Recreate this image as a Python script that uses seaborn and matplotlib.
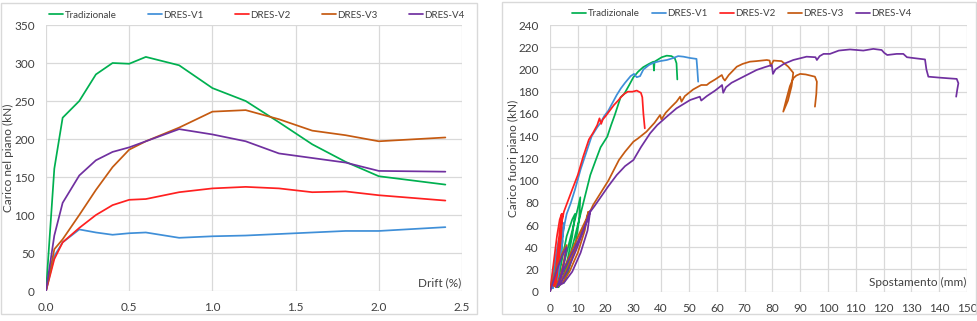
import matplotlib
matplotlib.use("Agg")
import matplotlib.pyplot as plt
import seaborn as sns
import pandas as pd
from matplotlib.patches import Rectangle

# ---------------- data ----------------
series_names = ["Tradizionale", "DRES-V1", "DRES-V2", "DRES-V3", "DRES-V4"]
series_colors = ["#00B050", "#3F8FD8", "#FF2020", "#C55A11", "#7030A0"]

# Left panel: in-plane load vs drift
drift = [0.0, 0.05, 0.1, 0.2, 0.3, 0.4, 0.5, 0.6, 0.8, 1.0, 1.2, 1.4, 1.6, 1.8, 2.0, 2.4]
trad_inplane = [0, 161, 228, 250, 285, 300, 299, 308, 297, 267, 250, 222, 193, 170, 151, 140]
v1_inplane = [0, 46, 64, 81, 77, 74, 76, 77, 70, 72, 73, 75, 77, 79, 79, 84]
v2_inplane = [0, 42, 64, 83, 100, 113, 120, 121, 130, 135, 137, 135, 130, 131, 126, 119]
v3_inplane = [0, 55, 68, 100, 133, 163, 186, 197, 215, 236, 238, 226, 211, 205, 197, 202]
v4_inplane = [0, 73, 116, 152, 172, 183, 189, 197, 213, 206, 197, 181, 175, 169, 158, 157]

# Right panel: out-of-plane load vs displacement (cyclic paths)
trad_disp = [0, 1.5, 3, 4.5, 4, 3, 2.5, 4, 6, 8, 9, 8, 6, 4, 3, 5, 7.5, 10, 10.9, 10.5, 9, 6.5, 5,
             7, 9.5, 11.5, 13, 14.5, 16.4, 18.2, 20.6, 22, 23.3, 25.4, 26.7, 28.5, 30, 31.7, 33.5,
             35.6, 37.2, 37.4, 37.6, 40.2, 42, 43.7, 44.9, 45.5, 45.8]
trad_load = [0, 20, 38, 46, 30, 10, 4, 25, 50, 65, 70, 50, 25, 8, 4, 25, 50, 75, 85, 65, 40, 18, 8,
             30, 55, 75, 90, 105, 118, 130, 139.5, 150, 159, 175, 178, 186, 193, 198, 202,
             205, 207, 199, 207, 211, 212.4, 212, 210, 205.6, 191]

v1_disp = [0, 1.5, 3, 4, 3.5, 2, 1, 2.5, 4, 5, 4.5, 3, 2, 3.5, 5, 6, 7.5, 9, 11, 13, 15, 17, 18.2,
           19.5, 21, 22.5, 24, 25.5, 27, 29, 30.2, 31.2, 32.4, 33.6, 35.6, 37.2, 39.6, 42, 44,
           46.1, 48, 50.4, 52.7, 53, 53.3]
v1_load = [0, 25, 45, 55, 35, 10, 3, 30, 50, 62, 45, 15, 5, 35, 58, 70, 80, 92, 110, 125, 140, 148, 152,
           158, 163, 170, 177, 183, 188, 194, 196, 193, 194, 200, 204, 206, 207.5, 208.5, 210,
           212, 211.5, 210.3, 209.5, 200, 189]

v2_disp = [0, 1.5, 2.5, 3.5, 4.2, 3.8, 2.5, 1.5, 2.5, 3.5, 4.5, 4.0, 3.0, 2.0, 3.0, 4.0, 5.0, 6.5, 8,
           10, 12, 14, 15.5, 17, 17.8, 18.4, 19, 20, 21.5, 23, 24.5, 25.5, 26.7, 28, 29.7, 31.2,
           32.7, 33.2, 33.6, 34.1]
v2_load = [0, 30, 50, 65, 70, 50, 20, 5, 30, 55, 70, 50, 25, 6, 35, 60, 72, 82, 92,
           105, 122, 137, 143, 150, 156, 151, 155, 158, 163, 168, 172, 175, 178, 180, 180, 181,
           179, 175, 160, 147]

v3_disp = [0, 1, 2.5, 4.5, 6, 5, 3.5, 2, 4.5, 7.5, 10.5, 13, 13.8, 12.5, 10, 7, 4.5, 3, 6, 9, 12, 14,
           15.5, 18, 21, 24.8, 27, 30, 31.7, 34.7, 37.6, 39.6, 40.1, 41.6, 43.7, 45.5, 46.8, 47.3,
           48.5, 51.5, 53.3, 54.4, 56.4, 57.4, 59.4, 61.8, 62.3, 62.9, 64.3, 67.2, 69.3, 71.9,
           74.2, 78, 79, 79.4, 80.4, 83.3, 85.7, 87.5, 86.9, 85.6, 83.9, 84.9, 86.3, 87.5, 88.6,
           90, 92, 95.3, 96, 95.8, 95.3]
v3_load = [0, 10, 22, 35, 42, 28, 12, 4, 18, 35, 52, 65, 72, 55, 35, 18, 8, 5, 20, 38, 57, 70,
           78, 88, 100, 118.5, 126, 135, 138, 144, 152, 159, 155, 161, 166.5, 171, 175.5, 171,
           176, 182, 184.5, 186, 186, 188, 191, 195, 192, 190, 195, 202.5, 205, 207,
           207.5, 208.5, 208, 203, 208, 207.5, 202.5, 197, 185, 172, 162, 172, 185, 192, 194.5,
           196, 195.5, 193.5, 189, 178, 166.5]

v4_disp = [0, 1, 2.5, 4.5, 6, 5, 3.5, 2.5, 5, 8, 11, 13, 14.5, 13.5, 11, 8, 5, 3.5, 6.5, 9.5, 12.5,
           14.5, 16, 18.5, 21, 24, 27, 30, 32.7, 36, 38.6, 42, 45.5, 50.4, 53.9, 54.4, 56.4, 59.4,
           61.2, 61.9, 62.3, 63.3, 65.3, 69.6, 74.3, 77.2, 79.8, 80.2, 81.1, 84.1, 87.5, 92.3,
           95.5, 96, 97, 98.4, 100.7, 103.9, 107.9, 112.7, 116.3, 119.3, 120.2, 121.3, 124.7,
           127.1, 128.4, 131.6, 134.9, 135.4, 136.1, 140.3, 143.5, 146.3, 146.9, 146.5, 146.1]
v4_load = [0, 8, 20, 33, 40, 25, 10, 4, 20, 35, 50, 62, 73, 55, 35, 18, 8, 6, 20, 38, 58,
           72, 77, 86, 95, 105, 113, 118.5, 130, 142.5, 150, 157.5, 165, 172.5, 175.5, 172, 176, 181,
           184.5, 186, 179, 184, 188, 193.5, 199.5, 202, 204, 196, 200, 205, 208.5, 211.5,
           211, 208.5, 212, 214, 214, 217, 218, 217, 218.5, 217.5, 215, 213, 214,
           214, 211, 210, 209, 200, 193.5, 192.6, 192, 191.5, 187.6, 182, 175.5]

left_ticks_x = [0.0, 0.5, 1.0, 1.5, 2.0, 2.5]
left_ticks_y = [0, 50, 100, 150, 200, 250, 300, 350]
right_ticks_x = list(range(0, 151, 10))
right_ticks_y = list(range(0, 241, 20))

# ---------------- tables ----------------
inplane = [trad_inplane, v1_inplane, v2_inplane, v3_inplane, v4_inplane]
df_left = pd.concat([pd.DataFrame({"x": drift, "y": vals, "serie": name})
                     for name, vals in zip(series_names, inplane)], ignore_index=True)

disps = [trad_disp, v1_disp, v2_disp, v3_disp, v4_disp]
loads = [trad_load, v1_load, v2_load, v3_load, v4_load]
df_right = pd.concat([pd.DataFrame({"x": d, "y": l, "serie": name})
                      for name, d, l in zip(series_names, disps, loads)], ignore_index=True)

# ---------------- style ----------------
sns.set_theme(style="whitegrid")
plt.rcParams["font.family"] = ["Lato", "DejaVu Sans"]
grid_c = "#D9D9D9"
text_c = "#404040"
palette = dict(zip(series_names, series_colors))

fig = plt.figure(figsize=(9.78, 3.21), dpi=100)
fig.patch.set_facecolor("white")

ax1 = fig.add_axes([46 / 978, 30 / 321, 416 / 978, 266 / 321])
ax2 = fig.add_axes([550 / 978, 29.3 / 321, 417 / 978, 266.7 / 321])

for ax, df in ((ax1, df_left), (ax2, df_right)):
    sns.lineplot(data=df, x="x", y="y", hue="serie", palette=palette, hue_order=series_names,
                 sort=False, estimator=None, lw=1.25, ax=ax, legend=True)

def style_axis(ax, xt, yt, xlim, ylim, ylabel, xlab, xfmt, label_x):
    ax.set_xlim(*xlim)
    ax.set_ylim(*ylim)
    ax.set_xticks(xt)
    ax.set_yticks(yt)
    ax.set_xticklabels([xfmt(v) for v in xt], fontsize=8.5, color=text_c)
    ax.set_yticklabels([str(v) for v in yt], fontsize=8.5, color=text_c)
    ax.tick_params(axis="x", length=0, pad=8)
    ax.tick_params(axis="y", length=0, pad=8)
    ax.grid(True, color=grid_c, lw=0.9)
    for s in ax.spines.values():
        s.set_visible(False)
    ax.set_xlabel("")
    ax.set_ylabel(ylabel, fontsize=8.5, color=text_c)
    ax.yaxis.set_label_coords(label_x, 0.5)
    ax.yaxis.label.set_verticalalignment("center")
    ax.text(0.998, 0.012, xlab, transform=ax.transAxes, ha="right", va="bottom",
            fontsize=8.5, color=text_c)
    ax.set_facecolor("white")
    lg = ax.get_legend()
    if lg is not None:
        lg.remove()

style_axis(ax1, left_ticks_x, left_ticks_y, (0, 2.5), (0, 350), "Carico nel piano (kN)", "Drift (%)",
           lambda v: f"{v:.1f}", (8.5 - 46) / 416)
style_axis(ax2, right_ticks_x, right_ticks_y, (0, 150), (0, 240), "Carico fuori piano (kN)",
           "Spostamento (mm)", lambda v: str(v), (513 - 550) / 417)

h1, l1 = ax1.get_legend_handles_labels()
fig.legend(h1, l1, loc="center", bbox_to_anchor=(257 / 978, 1 - 15 / 321), ncol=5, frameon=False,
           fontsize=7, handlelength=1.45, handletextpad=0.15, columnspacing=3.2, labelcolor=text_c)
h2, l2 = ax2.get_legend_handles_labels()
fig.legend(h2, l2, loc="center", bbox_to_anchor=(742 / 978, 1 - 14 / 321), ncol=5, frameon=False,
           fontsize=7, handlelength=1.45, handletextpad=0.15, columnspacing=1.25, labelcolor=text_c)

fig.patches.append(Rectangle((1 / 978, 7 / 321), 476 / 978, 311 / 321, transform=fig.transFigure,
                             fill=False, edgecolor=grid_c, lw=1))
fig.patches.append(Rectangle((502 / 978, 7 / 321), 474 / 978, 312 / 321, transform=fig.transFigure,
                             fill=False, edgecolor=grid_c, lw=1))

fig.savefig("out.png", dpi=100, facecolor="white")
